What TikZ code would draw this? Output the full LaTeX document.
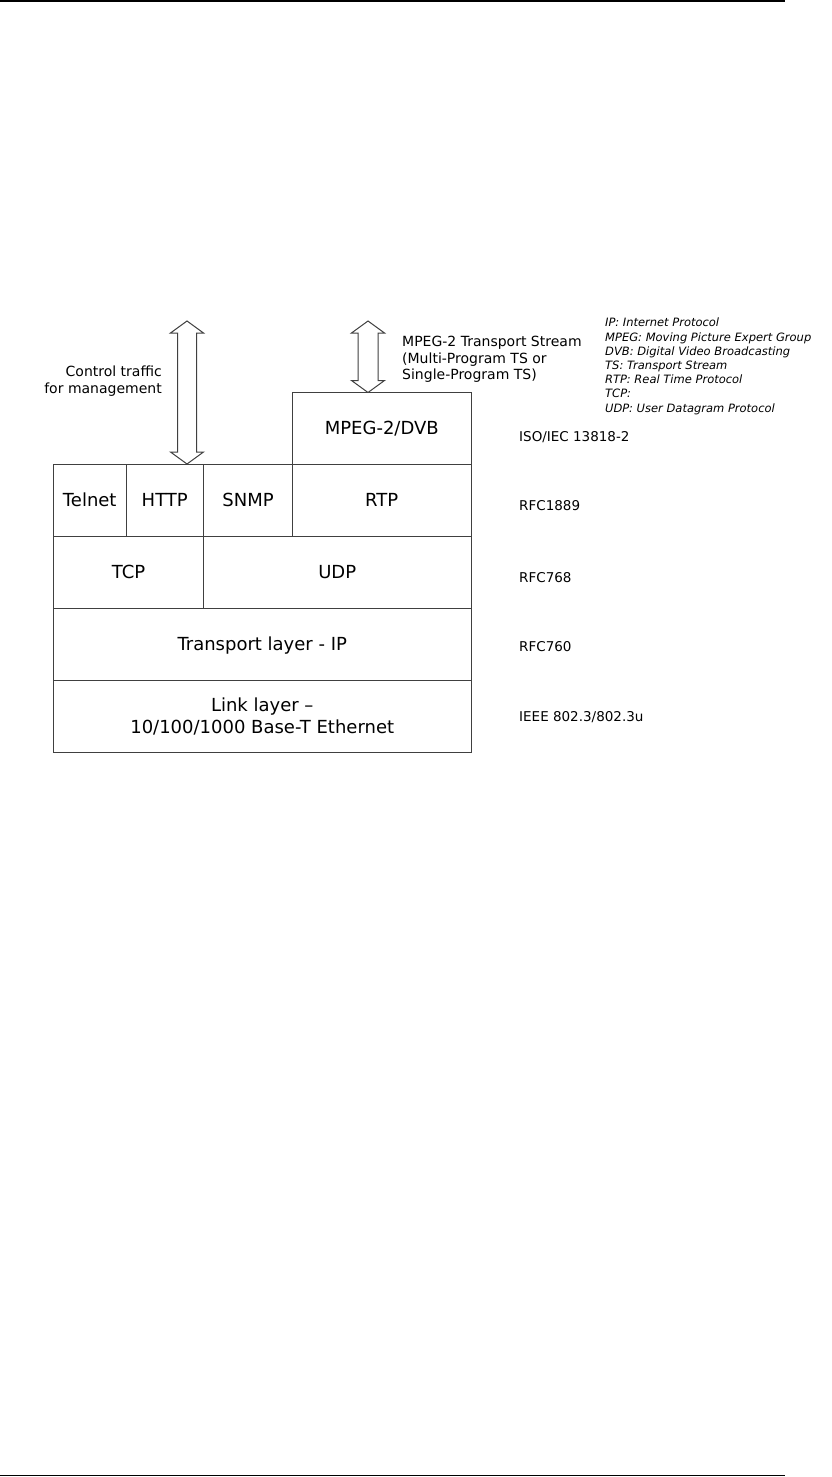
\documentclass[tikz,border=0pt]{standalone}
\usepackage{fontspec}
\setmainfont{DejaVu Sans}
\begin{document}
\begin{tikzpicture}[x=1pt,y=-1pt]
\definecolor{linec}{HTML}{404040}
\tikzset{
  cell/.style={draw=linec, line width=1pt, inner sep=0pt, align=center,
    font=\fontsize{18}{22}\selectfont, text height=13pt, text depth=0pt},
  stdlabel/.style={anchor=west, inner sep=0pt, font=\fontsize{13.5}{16}\selectfont, text height=10pt, text depth=0pt},
  note/.style={inner sep=0pt, font=\fontsize{14}{16.5}\selectfont},
  legend/.style={inner sep=0pt, align=left, font=\fontsize{11.5}{14.2}\selectfont\itshape},
  blockarrow/.style={draw=linec, line width=1pt, fill=white, line join=miter},
  rule/.style={line width=1.2pt, black}
}
\useasboundingbox[fill=white] (0,0) rectangle (832,1477);

% page rules
\draw[rule] (0,1) -- (785,1);
\draw[rule] (0,1475.5) -- (785,1475.5);

% protocol stack
\node[cell, minimum width=178.5, minimum height=71.5] (mpeg) at (381.75,428.25) {MPEG-2/DVB};
\node[cell, minimum width=72.5, minimum height=72] (telnet) at (89.75,500) {Telnet};
\node[cell, minimum width=77.5, minimum height=72] (http) at (164.75,500) {HTTP};
\node[cell, minimum width=89, minimum height=72] (snmp) at (248,500) {SNMP};
\node[cell, minimum width=178.5, minimum height=72] (rtp) at (381.75,500) {RTP};
\node[cell, minimum width=150, minimum height=72] (tcp) at (128.5,572) {TCP};
\node[cell, minimum width=267.5, minimum height=72] (udp) at (337.25,572) {UDP};
\node[cell, minimum width=417.5, minimum height=72] (ip) at (262.25,644) {Transport layer - IP};
\node[cell, minimum width=417.5, minimum height=72, text height=, text depth=, font=\fontsize{18}{22}\selectfont] (link) at (262.25,716) {Link layer –\\10/100/1000 Base-T Ethernet};

% double arrows
\def\dblarrow#1#2#3#4{% x, ytop, ybottom, shaft half width
  \draw[blockarrow] (#1,#2) -- ++(16.5,12) -- ({#1+#4},{#2+12}) -- ({#1+#4},{#3-12}) -- ({#1+16.5},{#3-12})
    -- (#1,#3) -- ({#1-16.5},{#3-12}) -- ({#1-#4},{#3-12}) -- ({#1-#4},{#2+12}) -- ({#1-16.5},{#2+12}) -- cycle;}
\dblarrow{187}{321}{464}{9.5}
\dblarrow{368}{321}{392.5}{10}

% annotations
\node[note, align=right, anchor=north east] (ctrl) at (162,366) {Control traffic\\for management};
\node[note, align=left, anchor=north west] (ts) at (402,336) {MPEG-2 Transport Stream\\(Multi-Program TS or\\Single-Program TS)};
\node[legend, anchor=north west] (leg) at (605,318) {IP: Internet Protocol\\MPEG: Moving Picture Expert Group\\DVB: Digital Video Broadcasting\\TS: Transport Stream\\RTP: Real Time Protocol\\TCP:\\UDP: User Datagram Protocol};

% standards
\node[stdlabel] (s1) at (519,436) {ISO/IEC 13818-2};
\node[stdlabel] (s2) at (519,505) {RFC1889};
\node[stdlabel] (s3) at (519,577) {RFC768};
\node[stdlabel] (s4) at (519,646) {RFC760};
\node[stdlabel] (s5) at (519,716) {IEEE 802.3/802.3u};
\end{tikzpicture}
\end{document}
